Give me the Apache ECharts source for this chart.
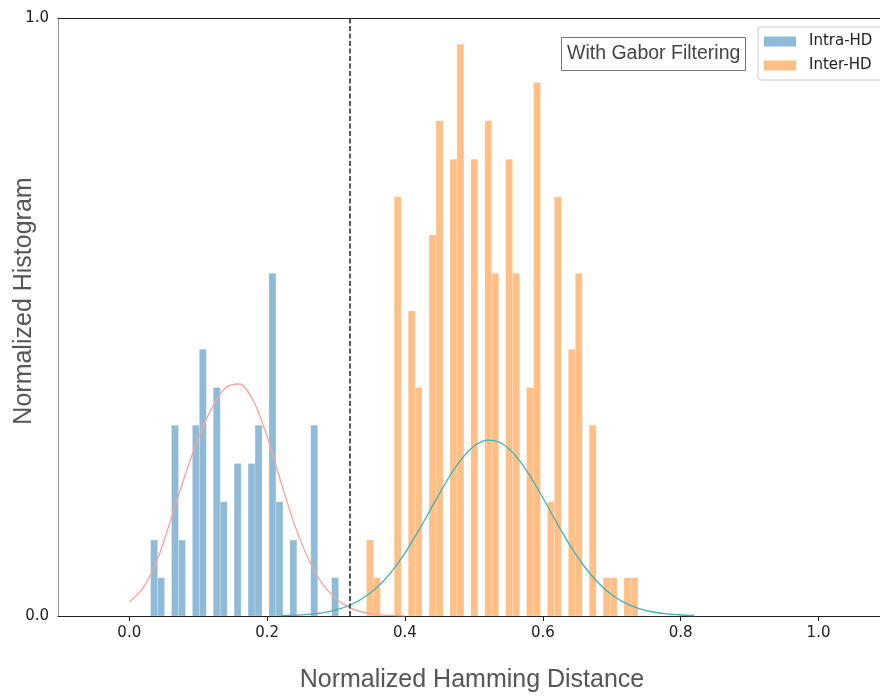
<!DOCTYPE html>
<html>
<head>
<meta charset="utf-8">
<title>Hamming distance histogram</title>
<script src="https://cdn.jsdelivr.net/npm/echarts@6.0.0/dist/echarts.min.js"></script>
<style>
  html, body { margin: 0; padding: 0; background: #fff; }
  #chart { width: 880px; height: 696px; }
</style>
</head>
<body>
<div id="chart"></div>
<script>
// histogram bins (left edge of each non-empty bin) and normalized heights
const binWidth = 0.0101;

const intraEdges = [0.0310, 0.0411, 0.0613, 0.0714, 0.0916, 0.1017, 0.1219, 0.1320,
  0.1522, 0.1724, 0.1825, 0.2027, 0.2128, 0.2330, 0.2633, 0.2936];
const intraHeights = [0.127, 0.064, 0.319, 0.127, 0.319, 0.446, 0.382, 0.191,
  0.255, 0.255, 0.319, 0.573, 0.191, 0.127, 0.319, 0.064];

const interEdges = [0.3441, 0.3542, 0.3845, 0.4047, 0.4148, 0.4350, 0.4451, 0.4653,
  0.4754, 0.4956, 0.5158, 0.5259, 0.5461, 0.5562, 0.5764, 0.5865, 0.6067, 0.6168,
  0.6370, 0.6471, 0.6673, 0.6875, 0.6976, 0.7178, 0.7279];
const interHeights = [0.127, 0.064, 0.701, 0.510, 0.382, 0.637, 0.828, 0.764,
  0.956, 0.764, 0.828, 0.573, 0.764, 0.573, 0.382, 0.892, 0.191, 0.701,
  0.446, 0.573, 0.319, 0.064, 0.064, 0.064, 0.064];

// fitted curves
const intraFitX = [0.00, 0.02, 0.04, 0.06, 0.08, 0.10, 0.12, 0.14, 0.16, 0.18, 0.20,
  0.22, 0.24, 0.26, 0.28, 0.30, 0.32, 0.34, 0.36, 0.38, 0.40];
const intraFitY = [0.0233, 0.047, 0.092, 0.160, 0.232, 0.297, 0.348, 0.382, 0.388, 0.360, 0.300,
  0.224, 0.152, 0.095, 0.054, 0.029, 0.0135, 0.006, 0.0024, 0.0009, 0.0003];

const interFitX = [0.22, 0.24, 0.26, 0.28, 0.30, 0.32, 0.34, 0.36, 0.38, 0.40, 0.42,
  0.44, 0.46, 0.48, 0.50, 0.52, 0.54, 0.56, 0.58, 0.60, 0.62, 0.64, 0.66, 0.68,
  0.70, 0.72, 0.74, 0.76, 0.78, 0.80, 0.82];
const interFitY = [0.0006, 0.0013, 0.0027, 0.0054, 0.0101, 0.0180, 0.0304, 0.0485, 0.0735, 0.1053, 0.1431,
  0.1841, 0.2245, 0.2593, 0.2837, 0.2941, 0.2888, 0.2687, 0.2368, 0.1977, 0.1564, 0.1172, 0.0832, 0.0560,
  0.0356, 0.0215, 0.0123, 0.0067, 0.0034, 0.0017, 0.0008];

const threshold = 0.3177;
const xTicks = [0, 0.2, 0.4, 0.6, 0.8, 1.0];

const zip = (a, b) => a.map((v, i) => [v, b[i]]);

function renderBars(params, api) {
  const x0 = api.value(0);
  const h = api.value(1);
  const p0 = api.coord([x0, 0]);
  const p1 = api.coord([x0 + binWidth, h]);
  return {
    type: 'rect',
    shape: { x: p0[0], y: p1[1], width: p1[0] - p0[0], height: p0[1] - p1[1] },
    style: api.style({ stroke: 'rgba(255,255,255,0.35)', lineWidth: 0.6 })
  };
}

const chart = echarts.init(document.getElementById('chart'), null, { renderer: 'canvas' });

const option = {
  animation: false,
  backgroundColor: '#fff',
  title: {
    text: 'With Gabor Filtering',
    left: 561,
    top: 37,
    padding: [7, 5, 7, 6],
    borderColor: '#777',
    borderWidth: 1,
    textStyle: { fontFamily: 'Liberation Sans', fontSize: 19.5, fontWeight: 'normal', color: '#444' }
  },
  legend: {
    orient: 'vertical',
    left: 758,
    top: 27,
    padding: [7, 40, 7, 6],
    itemGap: 9,
    itemWidth: 32,
    itemHeight: 10,
    icon: 'rect',
    borderColor: '#ccc',
    borderWidth: 1,
    borderRadius: 3,
    backgroundColor: '#fff',
    textStyle: { fontFamily: 'DejaVu Sans', fontSize: 15, color: '#222', padding: [0, 0, 0, 8] },
    data: ['Intra-HD', 'Inter-HD']
  },
  grid: { left: 58, top: 18, right: 0, bottom: 80 },
  xAxis: [{
    type: 'value',
    min: -0.1034,
    max: 1.0892,
    axisLine: { onZero: false, lineStyle: { color: '#222', width: 1.2 } },
    axisTick: { show: true, customValues: xTicks, length: 5, lineStyle: { color: '#222' } },
    axisLabel: {
      customValues: xTicks,
      margin: 10,
      fontFamily: 'DejaVu Sans',
      fontSize: 15,
      color: '#222',
      formatter: v => v.toFixed(1)
    },
    splitLine: { show: false }
  }, {
    type: 'value',
    position: 'top',
    min: -0.1034,
    max: 1.0892,
    axisLine: { show: true, onZero: false, lineStyle: { color: '#222', width: 1.2 } },
    axisTick: { show: false },
    axisLabel: { show: false },
    splitLine: { show: false }
  }],
  yAxis: {
    type: 'value',
    min: 0,
    max: 1,
    interval: 1,
    axisLine: { show: true, onZero: false, lineStyle: { color: '#999', width: 1 } },
    axisTick: { show: false },
    axisLabel: {
      margin: 9,
      fontFamily: 'DejaVu Sans',
      fontSize: 15,
      color: '#222',
      formatter: v => v.toFixed(1)
    },
    splitLine: { show: false }
  },
  graphic: [{
    type: 'text',
    x: 472,
    y: 680,
    style: {
      text: 'Normalized Hamming Distance',
      font: '25px "Liberation Sans"',
      fill: '#555',
      textAlign: 'center',
      textVerticalAlign: 'middle'
    }
  }, {
    type: 'text',
    x: 24,
    y: 301,
    rotation: Math.PI / 2,
    style: {
      text: 'Normalized Histogram',
      font: '25px "Liberation Sans"',
      fill: '#555',
      textAlign: 'center',
      textVerticalAlign: 'middle'
    }
  }],
  series: [{
    name: 'Intra-HD',
    type: 'custom',
    renderItem: renderBars,
    encode: { x: 0, y: 1 },
    clip: true,
    itemStyle: { color: '#8fbbd9' },
    data: zip(intraEdges, intraHeights)
  }, {
    name: 'Inter-HD',
    type: 'custom',
    renderItem: renderBars,
    encode: { x: 0, y: 1 },
    clip: true,
    itemStyle: { color: '#ffbf86' },
    data: zip(interEdges, interHeights)
  }, {
    name: 'intra fit',
    type: 'line',
    showSymbol: false,
    smooth: 0.3,
    z: 3,
    lineStyle: { color: '#f9a39b', width: 1.3 },
    data: zip(intraFitX, intraFitY)
  }, {
    name: 'inter fit',
    type: 'line',
    showSymbol: false,
    smooth: 0.3,
    z: 3,
    lineStyle: { color: '#42b3b0', width: 1.3 },
    data: zip(interFitX, interFitY),
    markLine: {
      silent: true,
      symbol: 'none',
      label: { show: false },
      lineStyle: { color: '#222', type: [5, 2.5], width: 1.5 },
      data: [{ xAxis: threshold }]
    }
  }]
};

chart.setOption(option);
</script>
</body>
</html>
